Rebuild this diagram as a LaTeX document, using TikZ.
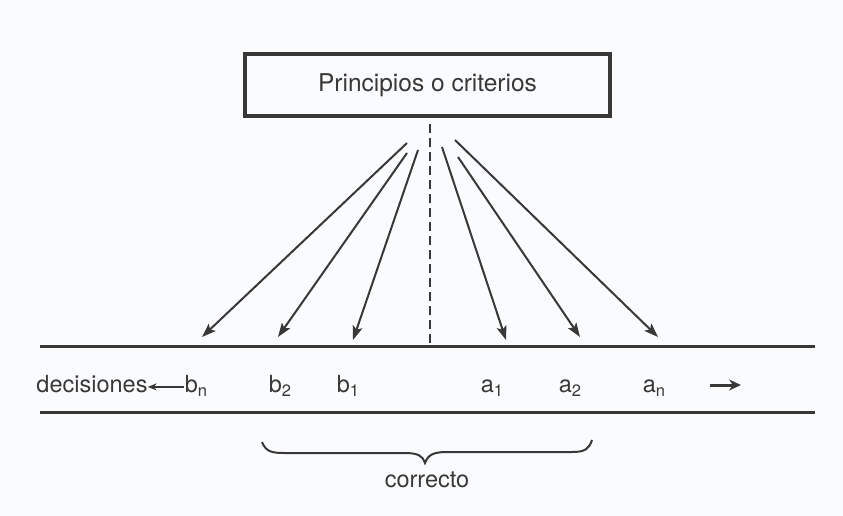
\documentclass[tikz,border=0pt]{standalone}
\usepackage{fontspec}
\setmainfont{TeX Gyre Heros}
\usetikzlibrary{arrows.meta}
\definecolor{ink}{HTML}{383838}
\definecolor{paper}{HTML}{FAFBFD}
\newcommand\lbsub[2]{#1\raisebox{-0.4ex}{\fontsize{16.5}{16.5}\selectfont #2}}
\begin{document}
\begin{tikzpicture}[x=1pt,y=-1pt,
  font=\fontsize{23.5}{27}\selectfont,
  every node/.style={text=ink, inner sep=0pt},
  boxst/.style={draw=ink, line width=4.5pt, minimum width=365pt, minimum height=62pt,
    font=\fontsize{24.5}{28}\selectfont},
  rulest/.style={draw=ink, line width=3pt},
  ray/.style={draw=ink, line width=2pt, -{Stealth[length=14pt,width=10pt,inset=3pt]}},
  dashst/.style={draw=ink, line width=2.6pt, dash pattern=on 9pt off 5pt},
  lbl/.style={anchor=base},
  smallarr/.style={draw=ink, line width=1.4pt, -{Stealth[length=9pt,width=7pt]}},
  bigarr/.style={draw=ink, line width=3pt, -{Stealth[length=12pt,width=11pt]}},
  bracest/.style={draw=ink, line width=2pt}
]
\fill[paper] (0,0) rectangle (843,516);
\useasboundingbox (0,0) rectangle (843,516);

% box
\node[boxst] (box) at (427.5,85) {Principios o criterios};

% decision lines
\coordinate (l1a) at (40,346);
\coordinate (l1b) at (815,346);
\coordinate (l2a) at (40,412);
\coordinate (l2b) at (815,412);
\draw[rulest] (l1a) -- (l1b);
\draw[rulest] (l2a) -- (l2b);

% dashed centre line
\coordinate (dtop) at (430,124);
\coordinate (dbot) at (430,346);
\draw[dashst] (dtop) -- (dbot);

% rays
\coordinate (s1) at (407,143); \coordinate (e1) at (202,337);
\coordinate (s2) at (407,153); \coordinate (e2) at (278,337);
\coordinate (s3) at (418,150); \coordinate (e3) at (353,340);
\coordinate (s4) at (442,147); \coordinate (e4) at (506,340);
\coordinate (s5) at (458,157); \coordinate (e5) at (580,337);
\coordinate (s6) at (455,140); \coordinate (e6) at (658,337);
\foreach \i in {1,...,6} {\draw[ray] (s\i) -- (e\i);}

% labels
\node[lbl] (dec) at (92,392) {decisiones};
\node[lbl] (bn) at (196,392) {\lbsub{b}{n}};
\node[lbl] (b2) at (280,392) {\lbsub{b}{2}};
\node[lbl] (b1) at (348,392) {\lbsub{b}{1}};
\node[lbl] (a1) at (492,392) {\lbsub{a}{1}};
\node[lbl] (a2) at (570,392) {\lbsub{a}{2}};
\node[lbl] (an) at (654,392) {\lbsub{a}{n}};
\draw[smallarr] (bn.west) ++(-1pt,-1pt) coordinate (bnw) (bnw) -- (dec.east |- bnw);
\coordinate (ra) at (710,385);
\coordinate (rb) at (741,385);
\draw[bigarr] (ra) -- (rb);

% brace
\draw[bracest] (262,442) .. controls (266,452) and (272,453) .. (285,453)
  -- (405,453) .. controls (418,453) and (423,456) .. (425,463)
  .. controls (428,455) and (433,452) .. (447,452)
  -- (572,452) .. controls (585,452) and (589,449) .. (592,440);
\node[lbl] (cor) at (427,487) {correcto};
\end{tikzpicture}
\end{document}
